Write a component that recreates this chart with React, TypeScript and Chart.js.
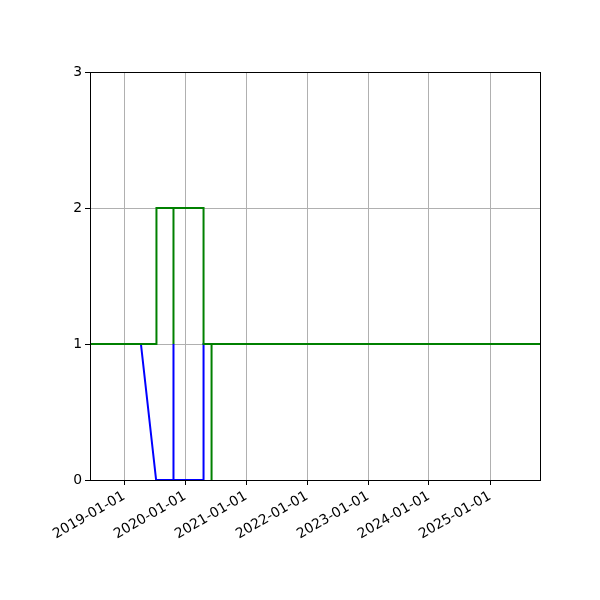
import React, { useEffect, useRef } from "react";
import { Chart, registerables } from "chart.js";

Chart.register(...registerables);

const xMinDate = "2018-06-11";
const xMaxDate = "2025-10-27";
const tickYears = [2019, 2020, 2021, 2022, 2023, 2024, 2025];
const yTicks = [0, 1, 2, 3];

const blueDates = [
  "2018-06-01", "2019-04-12", "2019-07-12", "2019-10-24", "2019-10-24",
  "2019-10-24", "2020-04-21", "2020-04-21", "2025-11-01",
];
const blueValues = [1, 1, 0, 0, 1, 0, 0, 1, 1];

const greenDates = [
  "2018-06-01", "2019-07-14", "2019-07-14", "2019-10-24", "2019-10-24",
  "2019-10-24", "2020-04-21", "2020-04-21", "2020-06-08", "2020-06-08",
  "2020-06-08", "2025-11-01",
];
const greenValues = [1, 1, 2, 2, 1, 2, 2, 1, 1, 0, 1, 1];

const toMs = (s: string) => {
  const [y, m, d] = s.split("-").map(Number);
  return Date.UTC(y, m - 1, d);
};
const fmt = (ms: number) => {
  const d = new Date(ms);
  const p = (n: number) => String(n).padStart(2, "0");
  return `${d.getUTCFullYear()}-${p(d.getUTCMonth() + 1)}-${p(d.getUTCDate())}`;
};

const framePlugin = {
  id: "frame",
  afterDatasetsDraw(chart: any) {
    const { ctx, chartArea } = chart;
    ctx.save();
    ctx.strokeStyle = "#000";
    ctx.lineWidth = 1;
    ctx.strokeRect(
      Math.round(chartArea.left) + 0.5,
      Math.round(chartArea.top) + 0.5,
      Math.round(chartArea.right - chartArea.left),
      Math.round(chartArea.bottom - chartArea.top)
    );
    ctx.restore();
  },
};

export default function App() {
  const ref = useRef<HTMLCanvasElement | null>(null);
  useEffect(() => {
    if (!ref.current) return;
    const font = { family: "'DejaVu Sans', sans-serif", size: 13.9 };
    const chart = new Chart(ref.current, {
      type: "line",
      data: {
        datasets: [
          {
            label: "blue",
            data: blueDates.map((d, i) => ({ x: toMs(d), y: blueValues[i] })),
            borderColor: "#0000ff",
            borderWidth: 2,
            pointRadius: 0,
            tension: 0,
            fill: false,
            order: 1,
          },
          {
            label: "green",
            data: greenDates.map((d, i) => ({ x: toMs(d), y: greenValues[i] })),
            borderColor: "#008000",
            borderWidth: 2,
            pointRadius: 0,
            tension: 0,
            fill: false,
            order: 0,
          },
        ],
      },
      options: {
        responsive: false,
        animation: false,
        events: [],
        layout: { padding: { top: 72, right: 60, left: 0, bottom: 0 } },
        plugins: { legend: { display: false }, tooltip: { enabled: false } },
        scales: {
          x: {
            type: "linear",
            min: toMs(xMinDate),
            max: toMs(xMaxDate),
            afterBuildTicks: (scale: any) => {
              scale.ticks = tickYears.map((y) => ({ value: Date.UTC(y, 0, 1) }));
            },
            afterFit: (scale: any) => {
              scale.height = 120;
            },
            ticks: {
              autoSkip: false,
              minRotation: 30,
              maxRotation: 30,
              color: "#000",
              font,
              padding: 3,
              callback: (v: any) => fmt(Number(v)),
            },
            grid: {
              color: "#b0b0b0",
              lineWidth: 1,
              tickColor: "#000",
              tickLength: 5,
            },
            border: { color: "#000", width: 1 },
          },
          y: {
            type: "linear",
            min: 0,
            max: 3,
            afterBuildTicks: (scale: any) => {
              scale.ticks = yTicks.map((v) => ({ value: v }));
            },
            afterFit: (scale: any) => {
              scale.width = 90;
            },
            ticks: { color: "#000", font, padding: 3 },
            grid: {
              color: "#b0b0b0",
              lineWidth: 1,
              tickColor: "#000",
              tickLength: 5,
            },
            border: { color: "#000", width: 1 },
          },
        },
      },
      plugins: [framePlugin],
    } as any);
    return () => chart.destroy();
  }, []);
  return (
    <div style={{ position: "absolute", left: 0, top: 0, width: 600, height: 600, background: "#fff" }}>
      <canvas ref={ref} width={600} height={600} />
    </div>
  );
}
